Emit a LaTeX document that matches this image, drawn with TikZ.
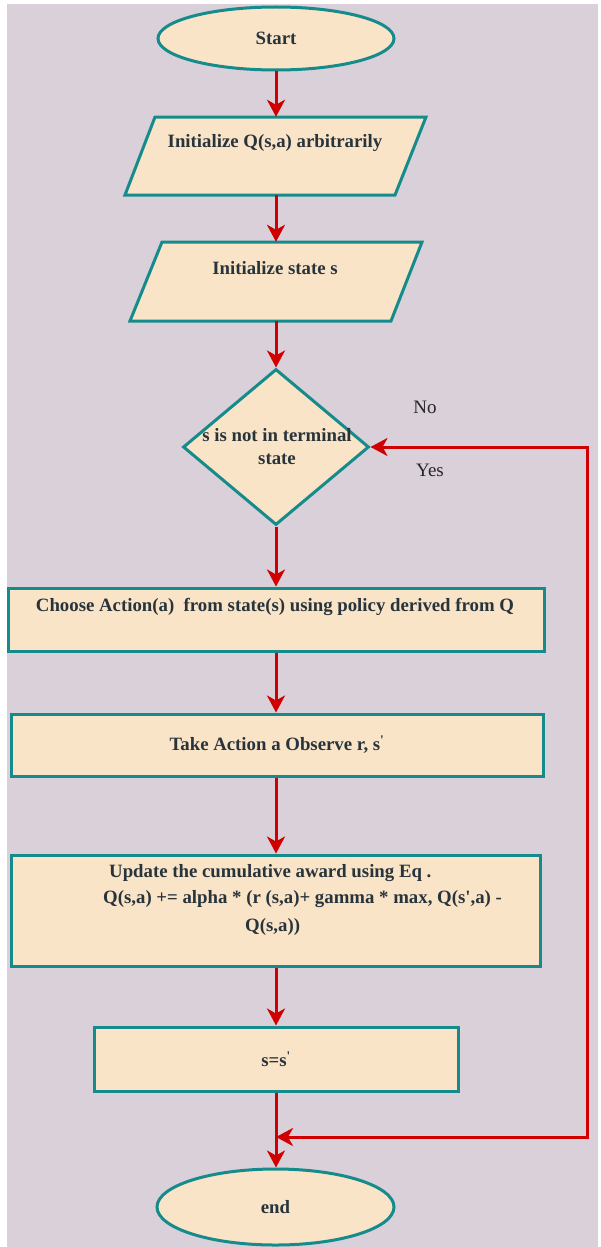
\documentclass[tikz,border=0pt]{standalone}
\usepackage{fontspec}
\setmainfont{Liberation Serif}[Ligatures=TeXOff]
\usetikzlibrary{shapes.geometric,arrows.meta}

\definecolor{pagebg}{HTML}{D9D0DA}
\definecolor{boxfill}{HTML}{FAE4C7}
\definecolor{boxline}{HTML}{168B8B}
\definecolor{flowred}{HTML}{D00000}
\definecolor{inktext}{HTML}{28343C}

\tikzset{
  label font/.style={text=inktext, font=\bfseries\fontsize{18.8}{23}\selectfont},
  base/.style={draw=boxline, fill=boxfill, line width=3pt, inner sep=0pt, label font},
  terminal/.style={base, ellipse},
  decision/.style={base, diamond, aspect=1.19},
  process/.style={base, rectangle},
  slanted/.style={draw=boxline, fill=boxfill, line width=3pt, line join=miter},
  anchorbox/.style={rectangle, inner sep=0pt},
  flow/.style={draw=flowred, line width=3pt,
               -{Stealth[length=17pt,width=18pt,inset=5pt]}},
  plain/.style={font=\fontsize{19}{23}\selectfont, text=black!85},
  eqline/.style={anchor=base west, inner sep=0pt, label font}
}

\begin{document}
\begin{tikzpicture}[x=1pt, y=-1pt]
  % page and its lavender backdrop
  \fill[white] (0,0) rectangle (600,1247);
  \fill[pagebg] (7,4) rectangle (598,1247);
  \useasboundingbox (0,0) rectangle (600,1247);

  % input parallelograms
  \draw[slanted] (155,117) -- (426,117) -- (395,195) -- (125,195) -- cycle;
  \draw[slanted] (162,242) -- (422,242) -- (391,321) -- (130,321) -- cycle;
  \node[anchorbox, minimum width=240pt, minimum height=78pt] (init) at (275.5,156) {};
  \node[anchorbox, minimum width=230pt, minimum height=79pt] (state) at (276,281.5) {};
  \node[label font] (initt) at (275,143) {Initialize Q(s,a) arbitrarily};
  \node[label font] (statet) at (275,268) {Initialize state s};

  % other nodes
  \node[terminal, minimum width=236pt, minimum height=63pt] (start) at (276,38.5) {Start};
  \node[decision, minimum width=186pt, minimum height=156pt] (term) at (276,447) {};
  \node[label font, align=center] (termt) at (277,447)
       {s is not in terminal\\state};
  \node[process, minimum width=536pt, minimum height=63pt] (choose) at (276,619.5) {};
  \node[label font] (chooset) at (275,607)
       {Choose Action(a)\ \ from state(s) using policy derived from Q};
  \node[process, minimum width=532pt, minimum height=62pt] (take) at (277,745)
       {Take Action a Observe r, s\textsuperscript{'}};
  \node[process, minimum width=529pt, minimum height=111pt] (update) at (275.5,910.5) {};
  \node[eqline] (u1) at (109,877) {Update the cumulative award using Eq .};
  \node[eqline] (u2) at (103,903) {Q(s,a) += alpha * (r (s,a)+ gamma * max, Q(s',a) -};
  \node[eqline] (u3) at (245,931) {Q(s,a))};
  \node[process, minimum width=364pt, minimum height=64pt] (assign) at (276,1059)
       {s=s\textsuperscript{'}};
  \node[terminal, minimum width=237pt, minimum height=76pt] (end) at (275.5,1207) {end};

  % branch labels
  \node[plain] (no) at (425,407) {No};
  \node[plain] (yes) at (430,470) {Yes};

  % loop corner points
  \coordinate (loopTop) at (587,447);
  \coordinate (loopBot) at (587,1137);
  \coordinate (merge) at (276,1137);

  % connectors
  \draw[flow] (start) -- (init.north -| start);
  \draw[flow] (init.south -| start) -- (state.north -| start);
  \draw[flow] (state.south -| start) -- (term);
  \draw[flow] (term) -- (choose);
  \draw[flow] (choose.south -| term) -- (take.north -| term);
  \draw[flow] (take.south -| term) -- (update.north -| term);
  \draw[flow] (update.south -| term) -- (assign.north -| term);
  \draw[flow] (assign.south -| term) -- (end.north -| term);
  \draw[flow] (loopBot) -- (loopTop) -- (term.east);
  \draw[flow] (loopTop) -- (loopBot) -- (merge);
\end{tikzpicture}
\end{document}
